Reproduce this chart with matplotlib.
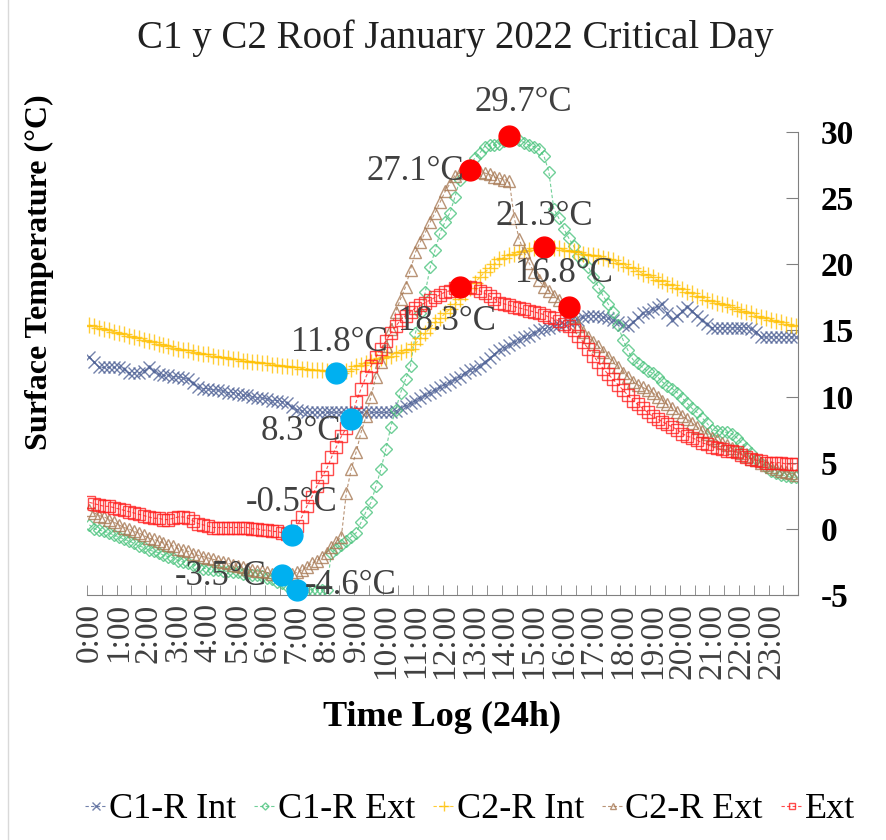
import matplotlib
matplotlib.use("Agg")
import matplotlib.pyplot as plt
from matplotlib.lines import Line2D

plt.rcParams['font.family'] = ['Liberation Serif', 'DejaVu Serif']
plt.rcParams['axes.unicode_minus'] = False

# 10-minute log, 0:00 .. 23:50
times = ["%d:%02d" % (k // 6, (k % 6) * 10) for k in range(144)]

c1_int = [13.0, 12.6, 12.2, 12.2, 12.2, 12.2, 12.2, 12.1, 11.8, 11.8, 11.8, 11.9,
          12.2, 11.9, 11.7, 11.6, 11.6, 11.5, 11.5, 11.4, 11.3, 11.0, 10.7, 10.6,
          10.6, 10.5, 10.5, 10.4, 10.3, 10.3, 10.2, 10.1, 10.1, 10.0, 9.9, 9.9,
          9.8, 9.7, 9.7, 9.6, 9.5, 9.2, 9.0, 8.9, 8.8, 8.8, 8.8, 8.8,
          8.8, 8.8, 8.8, 8.8, 8.8, 8.8, 8.8, 8.8, 8.8, 8.8, 8.8, 8.8,
          8.8, 8.8, 8.9, 9.1, 9.3, 9.5, 9.7, 9.9, 10.1, 10.3, 10.5, 10.7,
          10.9, 11.1, 11.3, 11.5, 11.8, 12.0, 12.1, 12.3, 12.6, 12.9, 13.2, 13.5,
          13.7, 13.9, 14.1, 14.3, 14.5, 14.6, 14.8, 15.0, 15.1, 15.2, 15.3, 15.4,
          15.5, 15.6, 15.7, 15.8, 16.0, 16.1, 16.1, 16.1, 16.0, 15.9, 15.8, 15.6,
          15.4, 15.3, 15.6, 16.0, 16.3, 16.4, 16.6, 16.8, 17.0, 16.3, 15.8, 16.1,
          16.5, 16.8, 16.5, 16.1, 15.8, 15.5, 15.2, 15.2, 15.2, 15.2, 15.2, 15.2,
          15.2, 15.2, 15.1, 14.9, 14.5, 14.5, 14.5, 14.5, 14.5, 14.5, 14.5, 14.5]

c1_ext = [0.3, 0.0, -0.1, -0.2, -0.3, -0.5, -0.6, -0.8, -0.9, -1.1, -1.3, -1.4,
          -1.6, -1.7, -1.8, -2.0, -2.1, -2.2, -2.4, -2.5, -2.6, -2.7, -2.9, -3.0,
          -3.0, -3.1, -3.1, -3.2, -3.2, -3.3, -3.3, -3.4, -3.4, -3.5, -3.5, -3.6,
          -3.7, -3.8, -4.0, -4.1, -4.3, -4.5, -4.6, -4.6, -4.6, -4.6, -4.6, -4.6,
          -4.6, -1.8, -1.5, -1.2, -0.9, -0.6, -0.3, 0.5, 1.3, 2.0, 3.2, 4.5,
          6.0, 7.7, 9.0, 10.3, 11.3, 12.3, 14.8, 16.3, 17.9, 19.8, 21.1, 22.4,
          23.2, 23.9, 25.1, 26.4, 27.0, 27.5, 28.0, 28.4, 28.9, 29.0, 29.0, 29.1,
          29.3, 29.7, 29.5, 29.4, 29.2, 29.0, 28.9, 28.7, 28.2, 27.0, 24.2, 23.5,
          22.7, 22.0, 21.4, 20.6, 20.2, 19.8, 19.0, 18.3, 17.6, 17.0, 16.4, 15.4,
          14.3, 13.5, 12.8, 12.5, 12.2, 11.9, 11.8, 11.5, 11.1, 10.8, 10.6, 10.3,
          9.9, 9.5, 9.1, 8.8, 8.4, 8.0, 7.5, 7.4, 7.3, 7.3, 7.2, 6.9,
          6.5, 6.1, 5.7, 5.3, 5.0, 4.7, 4.4, 4.2, 4.1, 4.0, 3.9, 3.9]

c2_int = [15.4, 15.3, 15.2, 15.1, 15.0, 14.9, 14.8, 14.7, 14.6, 14.5, 14.4, 14.3,
          14.2, 14.1, 14.0, 13.9, 13.8, 13.7, 13.6, 13.5, 13.5, 13.4, 13.3, 13.2,
          13.2, 13.1, 13.0, 13.0, 12.9, 12.8, 12.8, 12.7, 12.7, 12.6, 12.6, 12.5,
          12.5, 12.4, 12.4, 12.3, 12.3, 12.2, 12.2, 12.1, 12.1, 12.0, 12.0, 12.0,
          11.9, 11.9, 11.8, 11.8, 11.9, 12.1, 12.3, 12.4, 12.5, 12.6, 12.8, 12.9,
          13.0, 13.1, 13.3, 13.4, 13.5, 13.6, 14.0, 14.4, 14.8, 15.2, 15.6, 15.9,
          16.3, 16.6, 17.0, 17.4, 17.8, 18.2, 18.6, 19.0, 19.4, 19.7, 20.0, 20.4,
          20.5, 20.7, 20.8, 20.9, 21.0, 21.1, 21.2, 21.2, 21.3, 21.3, 21.2, 21.2,
          21.1, 21.0, 21.0, 20.9, 20.8, 20.7, 20.7, 20.6, 20.5, 20.4, 20.3, 20.1,
          20.0, 19.8, 19.7, 19.5, 19.3, 19.2, 19.0, 18.8, 18.7, 18.5, 18.4, 18.2,
          18.1, 17.9, 17.8, 17.6, 17.5, 17.3, 17.2, 17.1, 17.0, 16.9, 16.8, 16.6,
          16.5, 16.4, 16.3, 16.1, 16.0, 15.9, 15.8, 15.7, 15.6, 15.5, 15.4, 15.3]

c2_ext = [1.4, 1.2, 1.0, 0.9, 0.7, 0.5, 0.3, 0.1, 0.0, -0.2, -0.3, -0.5,
          -0.7, -0.8, -0.9, -1.1, -1.2, -1.3, -1.5, -1.6, -1.7, -1.9, -2.0, -2.1,
          -2.2, -2.3, -2.4, -2.5, -2.6, -2.7, -2.8, -2.9, -3.0, -3.1, -3.2, -3.2,
          -3.3, -3.4, -3.4, -3.5, -3.5, -3.4, -3.3, -3.1, -2.9, -2.6, -2.4, -2.1,
          -1.8, -1.4, -1.0, -0.6, 2.7, 4.5, 5.8, 7.3, 8.5, 10.0, 11.5, 12.6,
          13.8, 15.1, 16.4, 17.4, 18.3, 19.6, 20.9, 21.7, 22.4, 23.2, 23.9, 24.7,
          25.5, 26.1, 26.7, 26.9, 27.0, 27.1, 27.1, 27.0, 26.9, 26.8, 26.6, 26.5,
          26.4, 26.3, 23.5, 21.9, 20.9, 20.1, 19.4, 18.8, 18.3, 18.0, 17.6, 17.3,
          17.0, 16.8, 16.0, 15.3, 14.9, 14.5, 14.1, 13.8, 13.4, 13.0, 12.6, 12.2,
          11.8, 11.5, 11.1, 10.9, 10.7, 10.5, 10.3, 10.0, 9.7, 9.4, 9.1, 8.8,
          8.5, 8.3, 8.0, 7.7, 7.4, 7.2, 6.9, 6.7, 6.5, 6.3, 6.1, 5.9,
          5.7, 5.5, 5.3, 5.2, 5.0, 4.8, 4.7, 4.5, 4.4, 4.3, 4.2, 4.1]

ext = [2.0, 1.9, 1.8, 1.7, 1.7, 1.6, 1.5, 1.4, 1.3, 1.2, 1.1, 1.0,
       0.9, 0.8, 0.8, 0.7, 0.7, 0.8, 0.9, 0.9, 0.8, 0.6, 0.4, 0.3,
       0.2, 0.1, 0.1, 0.1, 0.1, 0.1, 0.1, 0.1, 0.1, 0.0, 0.0, -0.1,
       -0.1, -0.2, -0.2, -0.3, -0.4, -0.5, 0.2, 0.9, 1.7, 2.4, 3.2, 3.9,
       4.5, 5.4, 6.2, 7.0, 7.6, 8.3, 9.6, 10.6, 11.5, 12.3, 13.0, 13.6,
       14.2, 14.8, 15.3, 15.8, 16.1, 16.4, 16.7, 16.9, 17.1, 17.3, 17.5, 17.7,
       17.9, 18.0, 18.2, 18.3, 18.3, 18.3, 18.2, 18.0, 17.8, 17.6, 17.4, 17.1,
       17.0, 16.9, 16.8, 16.7, 16.6, 16.5, 16.4, 16.3, 16.2, 16.0, 15.9, 15.7,
       15.5, 15.3, 15.0, 14.6, 14.1, 13.6, 13.1, 12.6, 12.1, 11.7, 11.3, 10.9,
       10.5, 10.1, 9.7, 9.4, 9.1, 8.8, 8.5, 8.3, 8.1, 7.9, 7.7, 7.5,
       7.2, 7.0, 6.9, 6.7, 6.5, 6.4, 6.2, 6.1, 6.0, 5.9, 5.9, 5.8,
       5.6, 5.4, 5.3, 5.2, 5.1, 5.0, 5.0, 5.0, 5.0, 4.9, 4.9, 4.9]

names = ["C1-R Int", "C1-R Ext", "C2-R Int", "C2-R Ext", "Ext"]
series = [c1_int, c1_ext, c2_int, c2_ext, ext]
colors = ["#4F6296", "#4CC47E", "#FFC000", "#A87A55", "#FF2020"]
markers = ["x", "D", "+", "^", "s"]
msizes = [9, 6, 11, 8, 8]

# highlighted points: (series number, index) -- maxima red, minima blue
hi_pts = [(1, 85), (3, 77), (2, 92), (3, 97), (4, 75)]
lo_pts = [(2, 50), (4, 53), (4, 41), (3, 39), (1, 42)]
hi_off = [(10, 24), (-4, -1), (0, 22), (-3, 24), (-9, -25)]
lo_off = [(2, 22), (-36, -9), (0, 24), (-44, -1), (39, 3)]

fig = plt.figure(figsize=(8.87, 8.40), dpi=100)
ax = fig.add_axes([0.098, 0.2917, 0.802, 0.5512])

x = list(range(len(times)))
for s, n, c, m, ms in zip(series, names, colors, markers, msizes):
    ax.plot(x, s, color=c, lw=0.8, ls=(0, (3, 2)), marker=m, ms=ms,
            mfc='none', mec=c, mew=1.0, alpha=0.8, label=n)

for pts, offs, col in [(hi_pts, hi_off, "#FF0000"), (lo_pts, lo_off, "#00B0F0")]:
    for (k, i), off in zip(pts, offs):
        v = series[k][i]
        ax.plot(i, v, 'o', color=col, ms=15, zorder=10, clip_on=False)
        ha = 'right' if off == (-4, -1) else 'center'
        ax.annotate("%.1f°C" % v, (i, v), xytext=off, textcoords='offset points',
                    ha=ha, va='center', fontsize=25, color='#404040', zorder=11)

ax.set_xlim(-0.5, 143.5)
ax.set_ylim(-5, 30)
ax.set_xticks(x[::6])
ax.set_xticklabels(times[::6], rotation=90, fontsize=24, color='#404040')
ax.set_xticks([i - 0.5 for i in range(0, 145, 3)], minor=True)
ax.tick_params(axis='x', which='major', length=0, pad=6)
ax.tick_params(axis='x', which='minor', direction='in', length=7, color='#808080')

ax.yaxis.tick_right()
ax.set_yticks(range(-5, 31, 5))
ax.tick_params(axis='y', direction='in', length=9, pad=16, color='#808080',
               labelsize=24)
for t in ax.get_yticklabels():
    t.set_fontweight('bold')

for sp in ['top', 'left']:
    ax.spines[sp].set_visible(False)
for sp in ['right', 'bottom']:
    ax.spines[sp].set_color('#808080')

fig.text(0.513, 0.955, "C1 y C2 Roof January 2022 Critical Day", ha='center',
         va='center', fontsize=28, color='#202020')
fig.text(0.045, 0.676, "Surface Temperature (°C)", rotation=90, ha='center',
         va='center', fontsize=23, fontweight='bold')
fig.text(0.498, 0.146, "Time Log (24h)", ha='center', va='center',
         fontsize=26, fontweight='bold')

fig.legend(loc='center', bbox_to_anchor=(0.53, 0.036), ncol=5, frameon=False,
           fontsize=26, handlelength=0.6, handletextpad=0.05, columnspacing=0.5,
           markerscale=0.6)
fig.add_artist(Line2D([0.009, 0.009], [0, 1], color='#D9D9D9', lw=1))

fig.savefig("out.png", dpi=100)
